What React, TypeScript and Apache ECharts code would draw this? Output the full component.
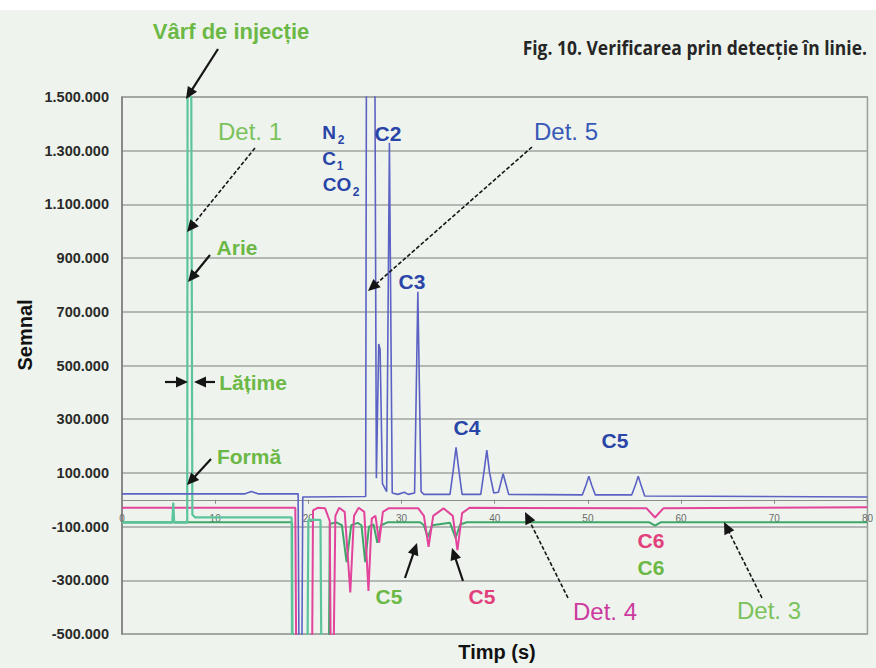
import React, { useEffect, useRef } from "react";
import * as echarts from "echarts";

// ---- Data (time in s, signal) ----
const det1Points: [number, number][] = [
  [0, -85000], [5.4, -85000], [5.5, -10000], [5.6, -85000], [7.0, -85000],
  [7.05, 2000000], [7.4, 2000000], [7.55, -55000], [7.85, -66000], [18.2, -66000],
  [18.25, -600000], [19.9, -600000], [20.0, -75000], [21.3, -75000], [21.4, -600000],
];
const det3Points: [number, number][] = [
  [0, -84000], [18.25, -84000], [18.3, -600000], [22.2, -600000], [22.3, -90000],
  [23.0, -84000], [23.6, -95000], [24.1, -232000], [24.6, -95000], [25.3, -86000],
  [25.7, -95000], [26.1, -232000], [26.5, -100000], [27.0, -92000], [27.4, -160000],
  [27.8, -95000], [28.5, -84000], [32.0, -84000], [32.4, -95000], [32.8, -140000],
  [33.3, -95000], [35.2, -86000], [35.8, -142000], [36.3, -92000], [37.0, -84000],
  [56.6, -84000], [57.2, -96000], [57.8, -84000], [80, -84000],
];
const det4Points: [number, number][] = [
  [0, -30000], [18.6, -30000], [18.7, -600000], [20.4, -600000], [20.5, -40000],
  [21.0, -30000], [21.8, -32000], [22.3, -80000], [22.4, -600000], [22.7, -600000],
  [22.9, -60000], [23.3, -30000], [23.9, -45000], [24.5, -345000], [24.9, -60000],
  [25.4, -30000], [26.0, -45000], [26.45, -340000], [26.8, -70000], [27.2, -60000],
  [27.6, -160000], [28.0, -45000], [28.6, -32000], [31.8, -32000], [32.4, -60000],
  [32.9, -175000], [33.4, -60000], [34.5, -32000], [35.5, -60000], [36.0, -188000],
  [36.5, -50000], [37.3, -30000], [56.3, -32000], [57.2, -66000], [58.1, -32000],
  [80, -28000],
];
const det5Points: [number, number][] = [
  [0, 22000], [13.2, 22000], [13.9, 31000], [14.6, 22000], [18.9, 22000],
  [19.0, -600000], [19.3, -600000], [19.4, 10000], [26.15, 12000], [26.25, 2000000],
  [27.1, 2000000], [27.3, 80000], [27.55, 580000], [27.7, 560000], [27.95, 60000],
  [28.4, 30000], [28.7, 1330000], [29.0, 25000], [29.6, 20000], [30.3, 28000],
  [30.7, 20000], [31.4, 25000], [31.75, 775000], [32.1, 30000], [32.4, 20000],
  [35.2, 20000], [35.55, 110000], [35.85, 195000], [36.15, 110000], [36.5, 20000],
  [38.5, 20000], [38.85, 105000], [39.15, 185000], [39.45, 100000], [39.9, 25000],
  [40.4, 28000], [40.9, 97000], [41.5, 20000], [49.4, 18000], [49.8, 55000],
  [50.1, 88000], [50.4, 55000], [50.8, 18000], [54.7, 18000], [55.1, 55000],
  [55.4, 88000], [55.7, 55000], [56.1, 14000], [80, 10000],
];

const yMin = -500000;
const yMax = 1500000;
const yStep = 200000;
const xMin = 0;
const xMax = 80;
const xStep = 10;

const fmtThousands = (v: number) => {
  const s = Math.abs(Math.round(v)).toString().replace(/\B(?=(\d{3})+(?!\d))/g, ".");
  return (v < 0 ? "-" : "") + s;
};

const GRID_TOP = 97;
const GRID_BOTTOM = 34;
const CHART_H = 668;
const GREEN_LBL = "#6cb846";
const GREEN_DET = "#7cc25c";
const BLUE_LBL = "#2a45a8";
const PINK_LBL = "#e2407c";
const MAG_DET = "#cc3aa0";
const FONT = "'Liberation Sans', Arial, Helvetica, sans-serif";
const TITLE_FONT = "'Open Sans', 'Liberation Sans', sans-serif";
const LBL = 21;
const DET = 24;

function arrow(x1: number, y1: number, x2: number, y2: number, dashed = false, color = "#151515") {
  const dx = x2 - x1, dy = y2 - y1;
  const L = Math.hypot(dx, dy);
  const ux = dx / L, uy = dy / L;
  const hl = 12, hw = 5.5;
  const bx = x2 - ux * hl, by = y2 - uy * hl;
  return [
    {
      type: "line", z: 100,
      shape: { x1, y1, x2: bx + ux * 2, y2: by + uy * 2 },
      style: { stroke: color, lineWidth: dashed ? 1.6 : 2.2, lineDash: dashed ? [4, 2] : null },
    },
    {
      type: "polygon", z: 101,
      shape: { points: [[x2, y2], [bx - uy * hw, by + ux * hw], [bx + uy * hw, by - ux * hw]] },
      style: { fill: color },
    },
  ];
}

function label(text: string, x: number, y: number, fill: string, size: number, bold = true, align = "left", family = FONT, scaleX = 1) {
  return {
    type: "text", z: 110, x, y, scaleX,
    style: {
      text, fill, align, verticalAlign: "middle",
      font: `${bold ? "bold " : ""}${size}px ${family}`,
    },
  };
}

export default function App() {
  const ref = useRef<HTMLDivElement>(null);
  useEffect(() => {
    document.body.style.margin = "0";
    if (!ref.current) return;
    const chart = echarts.init(ref.current, undefined, { renderer: "svg" });
    const line = (name: string, data: [number, number][], color: string, width: number, z: number) => ({
      name, type: "line", data, showSymbol: false, symbol: "none", clip: true, z,
      lineStyle: { color, width }, itemStyle: { color },
    });
    // place the x axis on the zero line of the y axis
    const plotH = CHART_H - GRID_TOP - GRID_BOTTOM;
    const zeroOffset = -plotH * (0 - yMin) / (yMax - yMin);
    chart.setOption({
      animation: false,
      backgroundColor: "#eef4ed",
      grid: { left: 122, right: 4, top: GRID_TOP, bottom: GRID_BOTTOM, show: true, borderColor: "#9a9e9a", borderWidth: 1.5, backgroundColor: "transparent" },
      xAxis: {
        type: "value", min: xMin, max: xMax, interval: xStep,
        offset: zeroOffset,
        axisLine: { onZero: false, lineStyle: { color: "#8a8c8a", width: 1 } },
        axisTick: { show: true, length: 4, lineStyle: { color: "#8a8c8a" } },
        axisLabel: { color: "#6a6a6a", fontSize: 10, margin: 14, fontFamily: FONT },
        splitLine: { show: false },
      },
      yAxis: {
        type: "value", min: yMin, max: yMax, interval: yStep,
        axisLine: { show: true, lineStyle: { color: "#7a7a7a", width: 1.5 } },
        axisTick: { show: false },
        axisLabel: {
          formatter: (v: number) => fmtThousands(v),
          color: "#2a2a2a", fontWeight: "bold", fontSize: 14.5, margin: 13, fontFamily: FONT,
        },
        splitLine: { lineStyle: { color: "#a0a4a0", width: 1.5 } },
      },
      series: [
        line("Det. 3", det3Points, "#3fa66a", 2, 3),
        line("Det. 4", det4Points, "#e2449c", 2, 4),
        line("Det. 1", det1Points, "#5cc49c", 2.2, 5),
        line("Det. 5", det5Points, "#5b62c4", 1.6, 6),
      ],
      graphic: [
        { type: "rect", z: 90, shape: { x: 0, y: 0, width: 876, height: 10 }, style: { fill: "#ffffff" } },
        label("Fig. 10. Verificarea prin detecție în linie.", 867, 47, "#262626", 19, true, "right", TITLE_FONT, 0.92),
        {
          type: "text", z: 110, x: 25, y: 335, rotation: Math.PI / 2,
          style: { text: "Semnal", fill: "#111", align: "center", verticalAlign: "middle", font: `bold 20px ${FONT}` },
        },
        label("Timp (s)", 497, 652, "#111", 20, true, "center"),
        label("Vârf de injecție", 231, 31, GREEN_LBL, 22, true, "center"),
        ...arrow(218, 49, 186, 99),
        label("Det. 1", 250, 131, GREEN_DET, DET, false, "center"),
        ...arrow(255, 148, 187, 232, true),
        label("Arie", 237, 247, GREEN_LBL, LBL, true, "center"),
        ...arrow(210, 255, 188, 282),
        ...arrow(165, 382, 188, 382),
        ...arrow(215, 382, 194, 382),
        label("Lățime", 253, 382, GREEN_LBL, LBL, true, "center"),
        label("Formă", 249, 456, GREEN_LBL, LBL, true, "center"),
        ...arrow(211, 459, 187, 485),
        label("N", 329, 132, BLUE_LBL, 19, true, "center"),
        label("2", 341, 140, BLUE_LBL, 12, true, "center"),
        label("C", 329, 158, BLUE_LBL, 19, true, "center"),
        label("1", 340, 166, BLUE_LBL, 12, true, "center"),
        label("CO", 337, 184, BLUE_LBL, 19, true, "center"),
        label("2", 356, 192, BLUE_LBL, 12, true, "center"),
        label("C2", 388, 133, BLUE_LBL, LBL, true, "center"),
        label("Det. 5", 566, 131, "#3858b8", DET, false, "center"),
        ...arrow(532, 147, 368, 291, true),
        label("C3", 412, 281, BLUE_LBL, LBL, true, "center"),
        label("C4", 467, 427, BLUE_LBL, LBL, true, "center"),
        label("C5", 615, 440, BLUE_LBL, LBL, true, "center"),
        label("C5", 389, 596, GREEN_LBL, LBL, true, "center"),
        ...arrow(405, 578, 417, 543),
        label("C5", 482, 596, PINK_LBL, LBL, true, "center"),
        ...arrow(463, 581, 452, 548),
        label("Det. 4", 605, 611, MAG_DET, DET, false, "center"),
        ...arrow(568, 598, 525, 512, true),
        label("C6", 651, 540, PINK_LBL, LBL, true, "center"),
        label("C6", 651, 567, GREEN_LBL, LBL, true, "center"),
        label("Det. 3", 769, 610, GREEN_DET, DET, false, "center"),
        ...arrow(762, 598, 724, 522, true),
      ],
    });
    return () => chart.dispose();
  }, []);
  return <div ref={ref} style={{ width: 876, height: 668 }} />;
}
